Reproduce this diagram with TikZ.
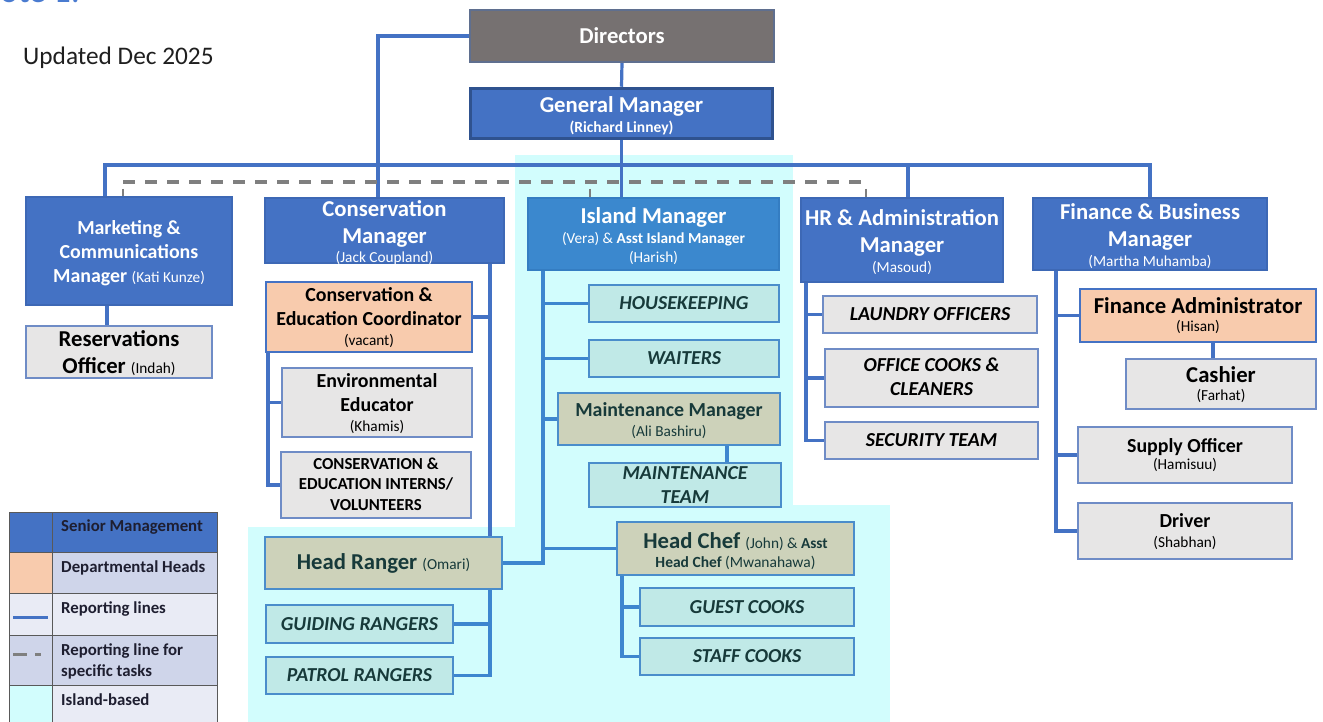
\documentclass[tikz,border=0pt]{standalone}
\usepackage{fontspec}
\setmainfont{Carlito}
\usetikzlibrary{calc}
\definecolor{cBlue}{HTML}{4472C4}
\definecolor{cBlueB}{HTML}{3D68B5}
\definecolor{cGMB}{HTML}{2F528F}
\definecolor{cIsl}{HTML}{3B88CE}
\definecolor{cIslB}{HTML}{347DC2}
\definecolor{cDir}{HTML}{767171}
\definecolor{cDirB}{HTML}{5F6F8F}
\definecolor{cGray}{HTML}{E7E6E6}
\definecolor{cGrayB}{HTML}{6F8CC6}
\definecolor{cPeach}{HTML}{F8CBAD}
\definecolor{cTeal}{HTML}{C0E9E7}
\definecolor{cTealB}{HTML}{4A8DCB}
\definecolor{cOlive}{HTML}{CDD2BA}
\definecolor{cDark}{HTML}{173A3A}
\definecolor{cCyan}{HTML}{D2FDFD}
\definecolor{cLineTwo}{HTML}{3D86CF}
\definecolor{cDash}{HTML}{7F7F7F}
\definecolor{cLav}{HTML}{CFD5EA}
\definecolor{cLavTwo}{HTML}{E9EBF5}
\definecolor{cLegText}{HTML}{1E1E30}
\definecolor{cNote}{HTML}{4A7BD0}
\pgfdeclarelayer{bg}
\pgfdeclarelayer{lines}
\pgfsetlayers{bg,lines,main}
\newcommand\FBig{\fontsize{22.7}{20}\selectfont\lineskiplimit=-50pt\bfseries}
\newcommand\FMid{\fontsize{19.9}{20}\selectfont\lineskiplimit=-50pt\bfseries}
\newcommand\FSub{\fontsize{15.3}{20}\selectfont\lineskiplimit=-50pt\mdseries}
\newcommand\FSubB{\fontsize{15.5}{20}\selectfont\lineskiplimit=-50pt\bfseries}
\newcommand\FCap{\fontsize{16.8}{20}\selectfont\lineskiplimit=-50pt\bfseries}
\newcommand\FTeam{\fontsize{19.8}{20}\selectfont\lineskiplimit=-50pt\bfseries\itshape}
\newcommand\FLeg{\fontsize{16.8}{20}\selectfont\lineskiplimit=-50pt\bfseries}
\tikzset{
  base/.style={rectangle, inner sep=0pt, align=center, line width=1.3pt},
  sz/.style 2 args={minimum width=#1, minimum height=#2},
  fb/.style={text height=#1, text depth=0pt},
  bluebox/.style={base, fill=cBlue, draw=cBlueB, text=white},
  gmbox/.style={base, fill=cBlue, draw=cGMB, line width=3.5pt, text=white},
  dirbox/.style={base, fill=cDir, draw=cDirB, text=white},
  islbox/.style={base, fill=cIsl, draw=cIslB, text=white},
  graybox/.style={base, fill=cGray, draw=cGrayB, text=black},
  peachbox/.style={base, fill=cPeach, draw=cBlue, text=black},
  tealbox/.style={base, fill=cTeal, draw=cTealB, text=cDark, font=\FTeam},
  olivebox/.style={base, fill=cOlive, draw=cTealB, text=cDark},
  conn/.style={draw=cBlue, line width=3.2pt},
  conntwo/.style={draw=cLineTwo, line width=3.2pt},
  taskline/.style={draw=cDash, line width=3.2pt, dash pattern=on 12pt off 10pt},
  tasktick/.style={draw=cDash, line width=2.8pt},
  legline/.style={draw=black!65, line width=0.8pt},
  legtext/.style={anchor=west, inner sep=0pt, align=left, text=cLegText, font=\FLeg}
}
\begin{document}
\begin{tikzpicture}[x=1pt, y=-1pt]
\useasboundingbox (0,0) rectangle (1323,722);

% island-based background
\begin{pgfonlayer}{bg}
  \fill[white] (0,0) rectangle (1323,722);
  \fill[cCyan] (515,155) rectangle (793,722);
  \fill[cCyan] (248,527) rectangle (515,722);
  \fill[cCyan] (793,505) rectangle (890,722);
\end{pgfonlayer}

% headings
\node[anchor=base west, inner sep=0pt, text=cNote, font=\fontsize{34}{36}\selectfont] (note) at (-22,2.5) {Note 1:};
\node[anchor=west, inner sep=0pt, text=black!88, font=\fontsize{25.3}{26}\selectfont] (updated) at (23,58) {Updated Dec 2025};

% top
\node[dirbox, sz={304pt}{52pt}, font=\FBig] (directors) at (622,36) {Directors};
\node[gmbox, sz={302pt}{50pt}, font=\FBig, fb=39pt] (gm) at (621.5,113.5) {General Manager\\\FSubB (Richard Linney)};

% managers
\node[bluebox, sz={206pt}{108pt}, font=\FMid, fb=62.8pt] (mkt) at (129,251) {Marketing \&\\[4pt]Communications\\[4pt]Manager {\FSub (Kati Kunze)}};
\node[bluebox, sz={239pt}{63pt}, font=\FBig, fb=64.8pt] (consmgr) at (384.5,230.5) {Conservation\\[7pt]Manager\\[-1pt]\FSub (Jack Coupland)};
\node[islbox, sz={251pt}{72pt}, font=\FBig, fb=57.8pt] (island) at (653.5,234) {Island Manager\\\FSub (Vera) \& {\bfseries Asst Island Manager}\\[-1pt]\FSub (Harish)};
\node[bluebox, sz={202pt}{84pt}, font=\FBig, fb=65.8pt] (hr) at (902,240) {HR \& Administration\\[7pt]Manager\\[0.5pt]\FSub (Masoud)};
\node[bluebox, sz={234pt}{72pt}, font=\FBig, fb=65.8pt] (fin) at (1150,234) {Finance \& Business\\[7pt]Manager\\\FSub (Martha Muhamba)};

% marketing
\node[graybox, sz={186pt}{52pt}, font=\FBig, fb=42.6pt] (resv) at (119,352) {Reservations\\[7pt]Officer {\FSub (Indah)}};

% conservation
\node[peachbox, sz={206pt}{70pt}, font=\FMid, fb=57.8pt] (coord) at (369,317) {Conservation \&\\[4pt]Education Coordinator\\\FSub (vacant)};
\node[graybox, sz={190pt}{69pt}, font=\FMid, fb=58.8pt] (enved) at (377,402.5) {Environmental\\[4pt]Educator\\\FSub (Khamis)};
\node[graybox, sz={190pt}{66pt}, font=\FCap, fb=50.8pt] (interns) at (376,485) {CONSERVATION \&\\[0.5pt]EDUCATION INTERNS/\\[0.5pt]VOLUNTEERS};
\node[olivebox, sz={237pt}{52pt}, font=\FBig] (ranger) at (383.5,563) {Head Ranger {\FSub (Omari)}};
\node[tealbox, sz={187pt}{38pt}] (guiding) at (359.5,624) {GUIDING RANGERS};
\node[tealbox, sz={187pt}{37pt}] (patrol) at (359.5,675.5) {PATROL RANGERS};

% island
\node[tealbox, sz={190pt}{37pt}] (hk) at (684,303.5) {HOUSEKEEPING};
\node[tealbox, sz={190pt}{37pt}] (waiters) at (684,358.5) {WAITERS};
\node[olivebox, sz={222pt}{52pt}, font=\FMid, fb=35.8pt] (maintmgr) at (669,419) {Maintenance Manager\\\FSub (Ali Bashiru)};
\node[tealbox, sz={192pt}{44pt}, fb=36.8pt] (mteam) at (685,485) {MAINTENANCE\\[4pt]TEAM};
\node[olivebox, sz={237pt}{53pt}, font=\FBig, fb=37pt] (chef) at (735.5,548.5) {Head Chef {\FSub (John) \& \bfseries Asst}\\[-1pt]\FSubB Head Chef \mdseries (Mwanahawa)};
\node[tealbox, sz={214pt}{38pt}] (guest) at (747,607) {GUEST COOKS};
\node[tealbox, sz={214pt}{37pt}] (staff) at (747,656.5) {STAFF COOKS};

% HR
\node[graybox, sz={214pt}{37pt}, font=\FTeam] (laundry) at (930,314.5) {LAUNDRY OFFICERS};
\node[graybox, sz={213pt}{58pt}, font=\FTeam, fb=34.8pt] (officecooks) at (931.5,378) {OFFICE COOKS \&\\[4pt]CLEANERS};
\node[graybox, sz={213pt}{37pt}, font=\FTeam] (security) at (931.5,440.5) {SECURITY TEAM};

% finance
\node[peachbox, sz={236pt}{53pt}, font=\FBig, fb=32.8pt] (finadmin) at (1198,315.5) {Finance Administrator\\[-1.5pt]\FSub (Hisan)};
\node[graybox, sz={190pt}{50pt}, font=\FBig, fb=33.8pt] (cashier) at (1221,384) {Cashier\\[-1.5pt]\FSub (Farhat)};
\node[graybox, sz={214pt}{56pt}, font=\FMid, fb=29.8pt] (supply) at (1185,455) {Supply Officer\\[-2.5pt]\FSub (Hamisuu)};
\node[graybox, sz={214pt}{56pt}, font=\FMid, fb=33.8pt] (driver) at (1185,531) {Driver\\\FSub (Shabhan)};

% connectors
\begin{pgfonlayer}{lines}
  \coordinate (busL) at (105,165);
  \coordinate (busR) at (1150,165);
  \coordinate (cv) at (490,0);
  \coordinate (ccv) at (268,0);
  \coordinate (iv) at (543,0);
  \coordinate (mv) at (727,0);
  \coordinate (chv) at (622,0);
  \coordinate (hrv) at (806,0);
  \coordinate (fv) at (1056,0);
  \coordinate (cav) at (1213,0);
  \coordinate (tm) at (123,182);
  \coordinate (th) at (866,182);
  \coordinate (tmt) at (123,189);
  \coordinate (tit) at (590,189);
  \coordinate (tht) at (866,189);

  \draw[conn] (directors.west) -| ([xshift=-6.5pt]consmgr.north);
  \draw[conn] (directors.south) -- (gm.north);
  \draw[conn] (gm.south) -- (gm.south |- island.north);
  \draw[conn] (mkt.north -| busL) -- (busL) -- (busR) -- (fin.north);
  \draw[conn] ([xshift=6pt]hr.north |- busL) -- ([xshift=6pt]hr.north);

  \draw[taskline] (tm) -- (th);
  \draw[tasktick] (tmt) -- (tmt |- mkt.north);
  \draw[tasktick] (tit) -- (tit |- island.north);
  \draw[tasktick] (tht) -- (tht |- hr.north);

  \draw[conn] ([xshift=-22pt]mkt.south) -- ([xshift=-12pt]resv.north);

  \draw[conn] (consmgr.south -| cv) -- (ranger.north -| cv);
  \draw[conn] (coord.east) -- (coord.east -| cv);
  \draw[conn] (coord.south -| ccv) |- (interns.west);
  \draw[conn] (enved.west) -- (enved.west -| ccv);

  \draw[conntwo] (ranger.south -| cv) |- (patrol.east);
  \draw[conntwo] (guiding.east) -- (guiding.east -| cv);

  \draw[conntwo] (island.south -| iv) |- (ranger.east);
  \draw[conntwo] (hk.west) -- (hk.west -| iv);
  \draw[conntwo] (waiters.west) -- (waiters.west -| iv);
  \draw[conntwo] (maintmgr.west) -- (maintmgr.west -| iv);
  \draw[conntwo] (chef.west) -- (chef.west -| iv);
  \draw[conntwo] (maintmgr.south -| mv) -- (mteam.north -| mv);
  \draw[conntwo] (chef.south -| chv) |- (staff.west);
  \draw[conntwo] (guest.west) -- (guest.west -| chv);

  \draw[conn] (hr.south -| hrv) |- (security.west);
  \draw[conn] (laundry.west) -- (laundry.west -| hrv);
  \draw[conn] (officecooks.west) -- (officecooks.west -| hrv);

  \draw[conn] (fin.south -| fv) |- (driver.west);
  \draw[conn] (finadmin.west) -- (finadmin.west -| fv);
  \draw[conn] (supply.west) -- (supply.west -| fv);
  \draw[conn] (finadmin.south -| cav) -- (cashier.north -| cav);
\end{pgfonlayer}

% legend
\fill[cBlue] (9,512) rectangle (217,552);
\fill[cPeach] (9,552) rectangle (52,593);
\fill[cLav] (52,552) rectangle (217,593);
\fill[cLavTwo] (9,593) rectangle (217,635);
\fill[cLav] (9,635) rectangle (217,685);
\fill[cCyan] (9,685) rectangle (52,722);
\fill[cLavTwo] (52,685) rectangle (217,722);
\draw[legline] (9,722) -- (9,512) -- (217,512) -- (217,722);
\draw[legline] (52,512) -- (52,722);
\foreach \yy in {552,593,635,685} { \draw[legline] (9,\yy) -- (217,\yy); }
\draw[draw=cBlue, line width=3pt] (13,617) -- (48,617);
\draw[draw=cDash, line width=3pt, dash pattern=on 14pt off 8pt] (13,654) -- (41,654);
\node[legtext] (legA) at (61,527) {Senior Management};
\node[legtext] (legB) at (61,568) {Departmental Heads};
\node[legtext] (legC) at (61,609) {Reporting lines};
\node[legtext] (legD) at (61,661) {Reporting line for\\[1pt]specific tasks};
\node[legtext] (legE) at (61,700) {Island-based};
\end{tikzpicture}
\end{document}
